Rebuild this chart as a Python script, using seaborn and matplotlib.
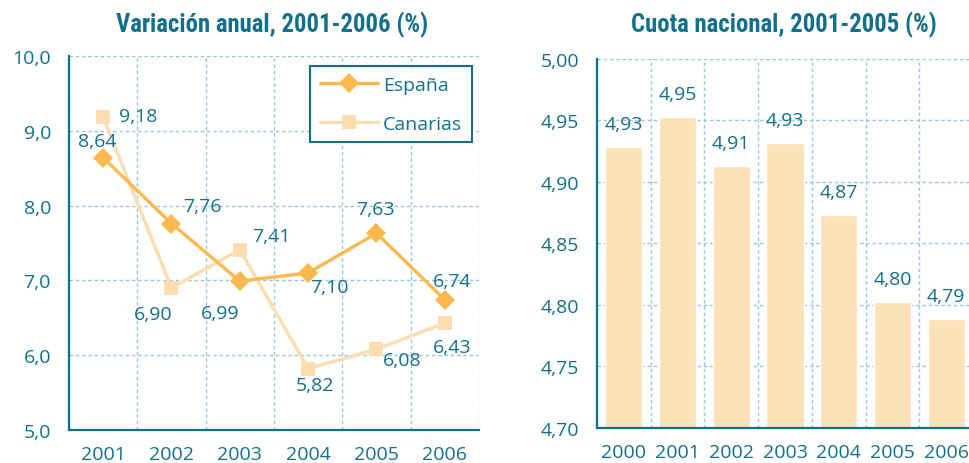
import matplotlib
matplotlib.use("Agg")
import matplotlib.pyplot as plt
import seaborn as sns
import pandas as pd
from matplotlib import font_manager
from matplotlib.ticker import FixedLocator, FixedFormatter, NullFormatter, FuncFormatter
from matplotlib.lines import Line2D

# ---- data ----
years_var = ["2001", "2002", "2003", "2004", "2005", "2006"]
espana = [8.64, 7.76, 6.99, 7.10, 7.63, 6.74]
canarias = [9.18, 6.90, 7.41, 5.82, 6.08, 6.43]

years_cuota = ["2000", "2001", "2002", "2003", "2004", "2005", "2006"]
cuota = [4.928, 4.953, 4.913, 4.932, 4.873, 4.802, 4.788]

title_var = "Variación anual, 2001-2006 (%)"
title_cuota = "Cuota nacional, 2001-2005 (%)"

# ---- style ----
TEAL = "#12708C"
GRID = "#97C9D8"
C_ESP = "#FDB94F"
C_CAN = "#FDDDB0"
C_BAR = "#FDE1B8"

sns.set_style("white")
plt.rcParams["font.family"] = ["Open Sans", "DejaVu Sans"]
plt.rcParams["text.color"] = TEAL
plt.rcParams["xtick.color"] = TEAL
plt.rcParams["ytick.color"] = TEAL

# narrow bold face for the headings, if one is installed
installed = {f.name for f in font_manager.fontManager.ttflist}
title_family = "Open Sans"
for cand in ["Roboto Condensed", "Open Sans Condensed", "Liberation Sans Narrow"]:
    if cand in installed:
        title_family = cand
        break
title_size = 17.8 if title_family != "Open Sans" else 14.5

fig = plt.figure(figsize=(9.70, 4.64), dpi=100)
ax1 = fig.add_axes([0.0711, 0.0711, 0.4227, 0.8061])
ax2 = fig.add_axes([0.6155, 0.0765, 0.3876, 0.7942])


def comma(v, decimals):
    return f"{v:.{decimals}f}".replace(".", ",")


def style_axes(ax, labels, yticks, decimals):
    n = len(labels)
    for side in ("top", "right"):
        ax.spines[side].set_visible(False)
    for side in ("left", "bottom"):
        ax.spines[side].set_color(TEAL)
        ax.spines[side].set_linewidth(1.6)
    ax.set_xlim(-0.5, n - 0.5)
    ax.xaxis.set_major_locator(FixedLocator([i - 0.5 for i in range(n + 1)]))
    ax.xaxis.set_major_formatter(NullFormatter())
    ax.xaxis.set_minor_locator(FixedLocator(list(range(n))))
    ax.xaxis.set_minor_formatter(FixedFormatter(labels))
    ax.tick_params(axis="x", which="major", length=5, width=1.4, color=TEAL, direction="out")
    ax.tick_params(axis="x", which="minor", length=0, pad=11, labelsize=14)
    ax.set_yticks(yticks)
    ax.yaxis.set_major_formatter(FuncFormatter(lambda v, p: comma(v, decimals)))
    ax.tick_params(axis="y", length=4.5, width=1.4, color=TEAL, direction="out",
                   labelsize=14, pad=8.5)
    ax.grid(True, which="major", color=GRID, linestyle=(0, (2.5, 2)), linewidth=1.0)
    ax.set_axisbelow(True)
    ax.set_xlabel("")
    ax.set_ylabel("")


# ---- left: annual variation lines ----
df = pd.DataFrame({
    "year": years_var * 2,
    "value": espana + canarias,
    "serie": ["España"] * len(years_var) + ["Canarias"] * len(years_var),
})
df["pos"] = df["year"].map({y: i for i, y in enumerate(years_var)})

sns.lineplot(
    data=df, x="pos", y="value", hue="serie", style="serie",
    hue_order=["Canarias", "España"], style_order=["Canarias", "España"],
    palette={"España": C_ESP, "Canarias": C_CAN},
    markers={"España": "D", "Canarias": "s"}, dashes=False,
    markersize=10, markeredgewidth=0, linewidth=2.4,
    legend=False, ax=ax1,
)
ax1.set_ylim(5, 10)
style_axes(ax1, years_var, [5, 6, 7, 8, 9, 10], 1)

# label offsets (pixels) for each point
off_esp = [(-6, 17), (31, 18), (-20, -32), (21, -14), (-1, 24), (7, 19)]
off_can = [(35, 1), (-18, -26), (32, 14), (7, -16), (26, -11), (7, -24)]
for i, v in enumerate(espana):
    ax1.annotate(comma(v, 2), (i, v), xytext=off_esp[i], textcoords="offset pixels",
                 ha="center", va="center", fontsize=14, color=TEAL)
for i, v in enumerate(canarias):
    ax1.annotate(comma(v, 2), (i, v), xytext=off_can[i], textcoords="offset pixels",
                 ha="center", va="center", fontsize=14, color=TEAL)

handles = [
    Line2D([], [], color=C_ESP, marker="D", markersize=10, markeredgewidth=0, linewidth=2.4),
    Line2D([], [], color=C_CAN, marker="s", markersize=10, markeredgewidth=0, linewidth=2.4),
]
leg = ax1.legend(handles, ["España", "Canarias"], loc="upper right",
                 bbox_to_anchor=(0.983, 0.973), borderaxespad=0, fontsize=14,
                 handlelength=3.0, handletextpad=0.25, labelspacing=1.07,
                 borderpad=0.5, fancybox=False, framealpha=1)
leg.get_frame().set_edgecolor(TEAL)
leg.get_frame().set_linewidth(1.5)
for t in leg.get_texts():
    t.set_color(TEAL)

# ---- right: national share bars ----
dfb = pd.DataFrame({"year": years_cuota, "cuota": cuota})
sns.barplot(data=dfb, x="year", y="cuota", order=years_cuota, color=C_BAR,
            saturation=1, width=0.69, ax=ax2)
ax2.set_ylim(4.70, 5.00)
style_axes(ax2, years_cuota, [4.70, 4.75, 4.80, 4.85, 4.90, 4.95, 5.00], 2)
for i, v in enumerate(cuota):
    ax2.annotate(comma(v, 2), (i, v), xytext=(0, 23), textcoords="offset pixels",
                 ha="center", va="center", fontsize=14, color=TEAL)

# ---- headings ----
fig.text(0.280, 1 - 32 / 464, title_var, ha="center", va="baseline",
         family=title_family, fontsize=title_size, fontweight="bold", color=TEAL)
fig.text(0.808, 1 - 32 / 464, title_cuota, ha="center", va="baseline",
         family=title_family, fontsize=title_size, fontweight="bold", color=TEAL)

fig.savefig("out.png", dpi=100)
